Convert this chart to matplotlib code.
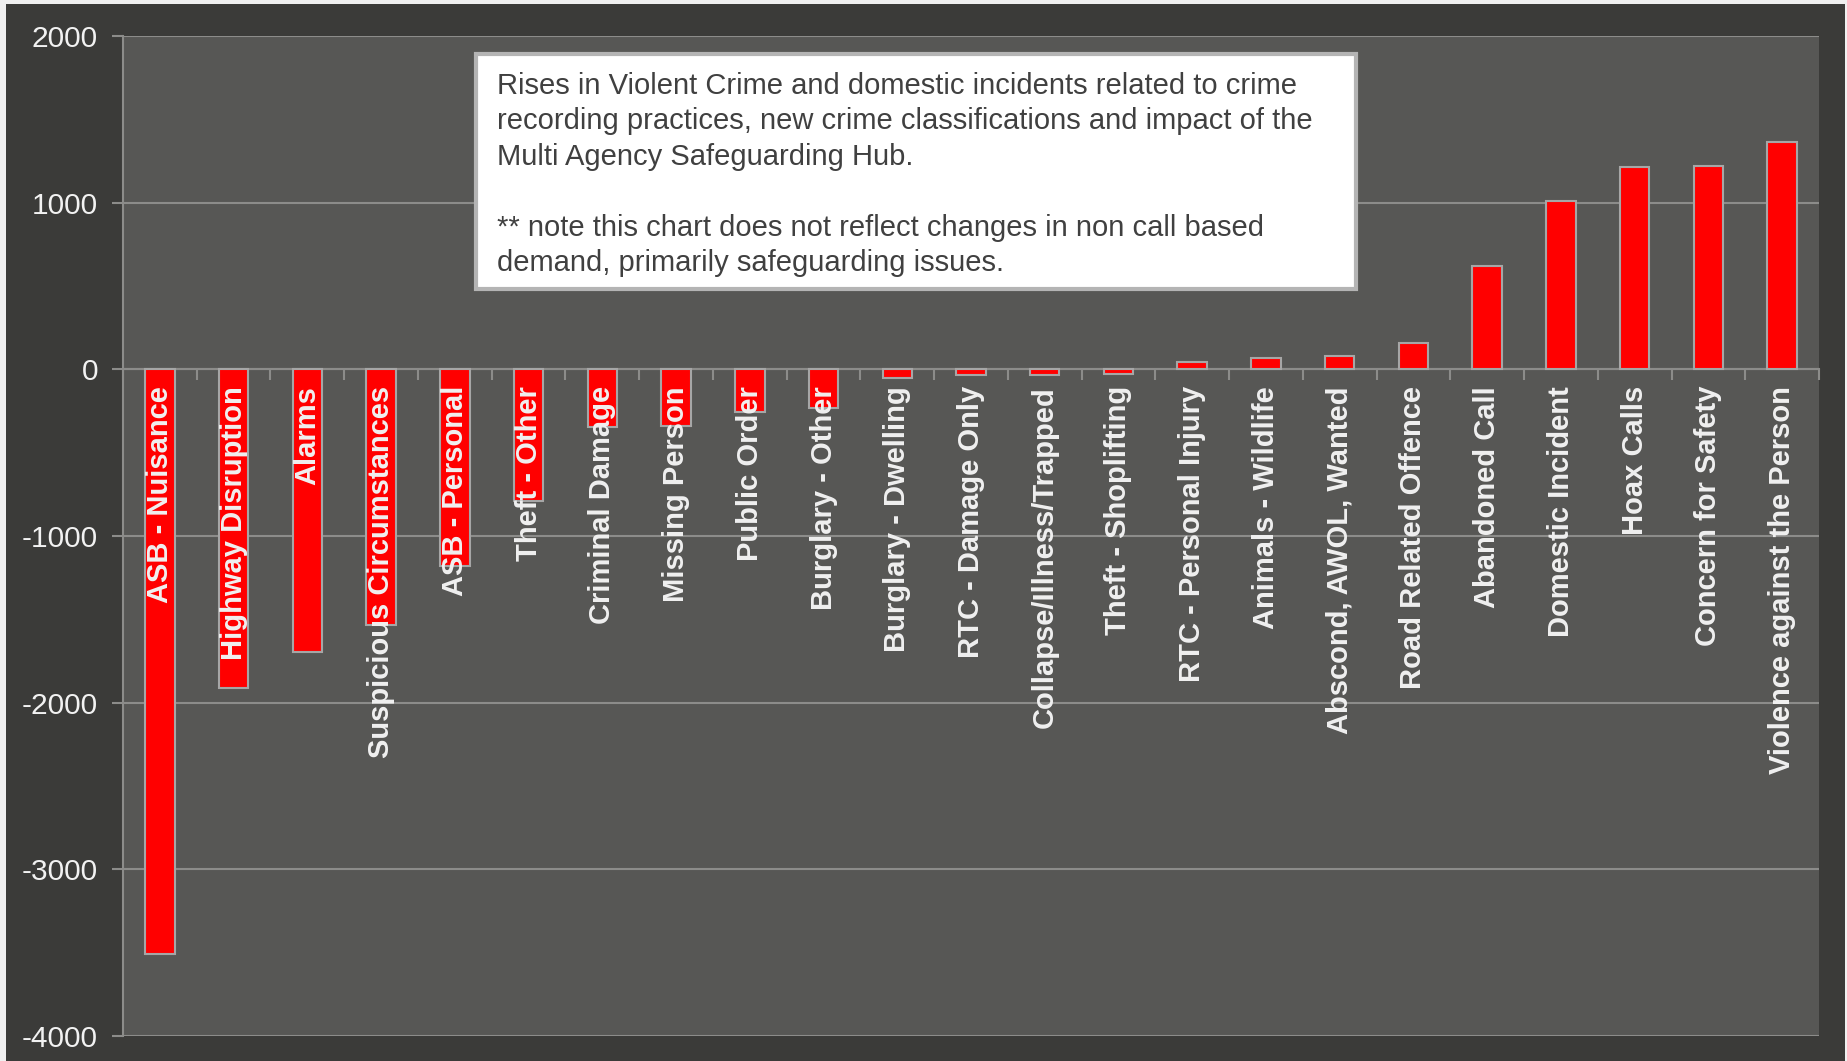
import numpy as np
import matplotlib
matplotlib.use("Agg")
import matplotlib.pyplot as plt
from matplotlib.patches import Rectangle

categories = [
    "ASB - Nuisance", "Highway Disruption", "Alarms", "Suspicious Circumstances",
    "ASB - Personal", "Theft - Other", "Criminal Damage", "Missing Person",
    "Public Order", "Burglary - Other", "Burglary - Dwelling", "RTC - Damage Only",
    "Collapse/Illness/Trapped", "Theft - Shoplifting", "RTC - Personal Injury",
    "Animals - Wildlife", "Abscond, AWOL, Wanted", "Road Related Offence",
    "Abandoned Call", "Domestic Incident", "Hoax Calls", "Concern for Safety",
    "Violence against the Person",
]
changes = [
    -3510, -1914, -1698, -1534, -1180, -788, -344, -338, -254, -230,
    -54, -34, -34, -28, 46, 70, 80, 160, 622, 1010, 1216, 1222, 1366,
]
y_ticks = [-4000, -3000, -2000, -1000, 0, 1000, 2000]
note = ("Rises in Violent Crime and domestic incidents related to crime\n"
        "recording practices, new crime classifications and impact of the\n"
        "Multi Agency Safeguarding Hub.\n"
        "\n"
        "** note this chart does not reflect changes in non call based\n"
        "demand, primarily safeguarding issues.")

plt.rcParams["font.family"] = ["Liberation Sans", "DejaVu Sans"]
plt.rcParams["axes.unicode_minus"] = False

W, H = 1847, 1061
fig = plt.figure(figsize=(W / 100, H / 100), dpi=100, facecolor="#3b3b39")

# light frame on top/left edge
fig.patches.append(Rectangle((0, 1 - 4 / H), 1, 4 / H, transform=fig.transFigure,
                             facecolor="#f0f0f0", edgecolor="none"))
fig.patches.append(Rectangle((0, 0), 6 / W, 1, transform=fig.transFigure,
                             facecolor="#f0f0f0", edgecolor="none"))
fig.patches.append(Rectangle((1 - 2 / W, 0), 2 / W, 1, transform=fig.transFigure,
                             facecolor="#f0f0f0", edgecolor="none"))

ax = fig.add_axes([123 / W, 1 - 1036 / H, (1819 - 123) / W, (1036 - 36) / H])
ax.set_facecolor("#575755")

x = np.arange(len(categories))
ax.bar(x, changes, width=0.4, color="#ff0000", edgecolor="#a6a6a6",
       linewidth=1.5, zorder=3)

ax.set_ylim(-4000, 2000)
ax.set_xlim(-0.5, len(categories) - 0.5)
ax.set_yticks(y_ticks)
ax.yaxis.grid(True, color="#8c8c8a", linewidth=1.5, zorder=0)
ax.set_axisbelow(True)

for side in ["top", "right"]:
    ax.spines[side].set_visible(False)
ax.spines["left"].set_color("#8c8c8a")
ax.spines["left"].set_linewidth(1.5)
ax.spines["bottom"].set_position(("data", 0))
ax.spines["bottom"].set_color("#8c8c8a")
ax.spines["bottom"].set_linewidth(1.5)
ax.spines["bottom"].set_zorder(2)

ax.set_xticks(np.arange(-0.5, len(categories)))
ax.set_xticklabels([])
ax.tick_params(axis="x", length=8, width=1.5, color="#8c8c8a", direction="out")
ax.tick_params(axis="y", length=8, width=1.5, color="#8c8c8a", direction="out",
               labelsize=21.5, labelcolor="#f2f2f2", pad=10)

for i, name in enumerate(categories):
    ax.annotate(name, xy=(i, 0), xytext=(0, -12), textcoords="offset points",
                rotation=90, ha="center", va="top", fontsize=21,
                fontweight="bold", color="#f0f0f0", zorder=5)

# note box
fig.patches.append(Rectangle((476 / W, 1 - 289 / H), 880 / W, 235 / H,
                             transform=fig.transFigure, facecolor="white",
                             edgecolor="#b4b4b4", linewidth=3, zorder=6))
fig.text(497 / W, 1 - 72 / H, note, ha="left", va="top", fontsize=21,
         color="#404040", linespacing=1.34, zorder=7)

fig.savefig("out.png", dpi=100, facecolor=fig.get_facecolor())
